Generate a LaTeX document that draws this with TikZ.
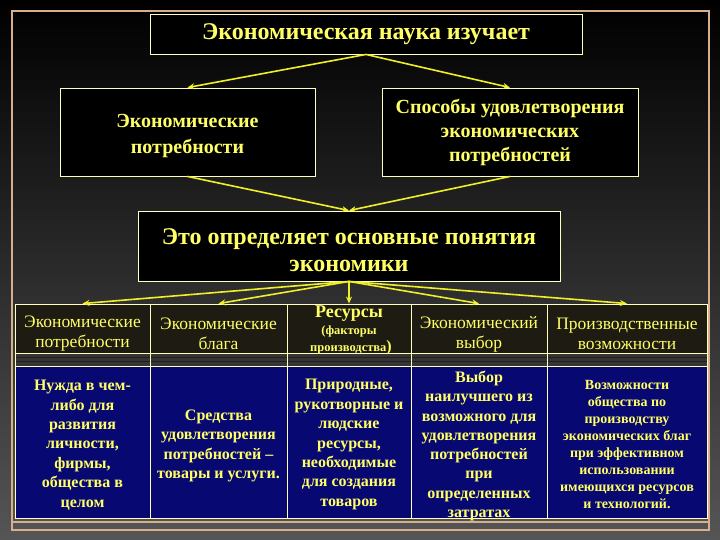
\documentclass[tikz,border=0pt]{standalone}
\usepackage{fontspec}
\setmainfont{Liberation Serif}
\usetikzlibrary{arrows.meta}
\definecolor{txt}{RGB}{255,255,102}
\definecolor{edge}{RGB}{255,255,190}
\definecolor{arr}{RGB}{240,240,40}
\definecolor{framec}{RGB}{215,175,140}
\definecolor{navy}{RGB}{8,8,115}
\definecolor{hdr}{RGB}{30,28,18}
\definecolor{band}{RGB}{55,52,52}
\definecolor{bandline}{RGB}{30,30,30}
\begin{document}
\begin{tikzpicture}[x=1pt,y=-1pt,
  box/.style={draw=edge, line width=0.9pt, fill=black, inner sep=0pt},
  hcell/.style={draw=edge, line width=0.9pt, fill=hdr, inner sep=0pt, minimum height=49pt},
  bcell/.style={draw=edge, line width=0.9pt, fill=navy, inner sep=0pt, minimum height=152pt},
  tx/.style={text=txt, align=center, inner sep=0pt},
  arrowline/.style={draw=arr, line width=1.6pt, -{Stealth[length=7pt,width=6pt]}}]
\shade[top color=black, middle color=black, bottom color={rgb,255:red,85;green,85;blue,85}] (0,0) rectangle (720,540);
\useasboundingbox (0,0) rectangle (720,540);
\draw[framec, line width=2pt] (12,11) rectangle (709,530);
\draw[framec, line width=1.5pt] (12,522) -- (709,522);

% upper boxes
\node[box, minimum width=432pt, minimum height=40pt] (top) at (366,34) {};
\node[tx, font={\fontsize{24}{28}\selectfont\bfseries}] (ttop) at (366,34) {Экономическая наука изучает};
\node[box, minimum width=255pt, minimum height=88pt] (left) at (187.5,132) {};
\node[tx, font={\fontsize{20}{26}\selectfont\bfseries}] (tleft) at (187.5,136) {Экономические\\потребности};
\node[box, minimum width=256pt, minimum height=88pt] (right) at (510,132) {};
\node[tx, font={\fontsize{20}{24}\selectfont\bfseries}] (tright) at (510,132.5) {Способы удовлетворения\\экономических\\потребностей};
\node[box, minimum width=422pt, minimum height=70pt] (mid) at (349,246) {};
\node[tx, font={\fontsize{24}{27}\selectfont\bfseries}] (tmid) at (349,250) {Это определяет основные понятия\\экономики};

% band between rows
\fill[band] (15,353) rectangle (707,366);
\draw[bandline, line width=1pt] (15,357.5) -- (707,357.5) (15,361.5) -- (707,361.5);
\draw[edge, line width=0.9pt] (150,353) -- (150,366) (287,353) -- (287,366) (411,353) -- (411,366) (547,353) -- (547,366)
  (15,353) -- (15,366) (707,353) -- (707,366);

% header row
\node[hcell, minimum width=135pt] (h1) at (82.5,328.5) {};
\node[hcell, minimum width=137pt] (h2) at (218.5,328.5) {};
\node[hcell, minimum width=124pt] (h3) at (349,328.5) {};
\node[hcell, minimum width=136pt] (h4) at (479,328.5) {};
\node[hcell, minimum width=160pt] (h5) at (627,328.5) {};
\node[tx, font={\fontsize{17.5}{20}\selectfont}] (th1) at (82.5,334) {Экономические\\потребности};
\node[tx, font={\fontsize{17.5}{20}\selectfont}] (th2) at (218.5,334) {Экономические\\блага};
\node[tx, font={\fontsize{18}{18}\selectfont\bfseries}] (th3a) at (349,313.5) {Ресурсы};
\node[tx, font={\fontsize{12.5}{14}\selectfont\bfseries}] (th3b) at (349,331.5) {(факторы};
\node[tx, font={\fontsize{12.5}{14}\selectfont\bfseries}] (th3c) at (351,348) {производства{\fontsize{16}{16}\selectfont)}};
\node[tx, font={\fontsize{17.5}{20}\selectfont}] (th4) at (479,334) {Экономический\\выбор};
\node[tx, font={\fontsize{17.5}{20}\selectfont}] (th5) at (627,334) {Производственные\\возможности};

% blue row
\node[bcell, minimum width=135pt] (b1) at (82.5,442) {};
\node[bcell, minimum width=137pt] (b2) at (218.5,442) {};
\node[bcell, minimum width=124pt] (b3) at (349,442) {};
\node[bcell, minimum width=136pt] (b4) at (479,442) {};
\node[bcell, minimum width=160pt] (b5) at (627,442) {};
\node[tx, font={\fontsize{16}{19.4}\selectfont\bfseries}] (tb1) at (82.5,445)
  {Нужда в чем-\\либо для\\развития\\личности,\\фирмы,\\общества в\\целом};
\node[tx, font={\fontsize{16}{19.5}\selectfont\bfseries}] (tb2) at (218.5,446)
  {Средства\\удовлетворения\\потребностей –\\товары и услуги.};
\node[tx, font={\fontsize{16}{19.4}\selectfont\bfseries}] (tb3) at (349,444.5)
  {Природные,\\рукотворные и\\людские\\ресурсы,\\необходимые\\для создания\\товаров};
\node[tx, font={\fontsize{16}{19.3}\selectfont\bfseries}] (tb4) at (479,446)
  {Выбор\\наилучшего из\\возможного для\\удовлетворения\\потребностей\\при\\определенных\\затратах};
\node[tx, font={\fontsize{14}{16.9}\selectfont\bfseries}] (tb5) at (627,444.5)
  {Возможности\\общества по\\производству\\экономических благ\\при эффективном\\использовании\\имеющихся ресурсов\\и технологий.};

% connectors
\draw[arrowline] (top.south) -- (left.north);
\draw[arrowline] (top.south) -- (right.north);
\draw[arrowline] (left.south) -- (mid.north);
\draw[arrowline] (right.south) -- (mid.north);
\foreach \n in {h1,h2,h3,h4,h5}
  \draw[arrowline] (mid.south) -- (\n.north);
\end{tikzpicture}
\end{document}
